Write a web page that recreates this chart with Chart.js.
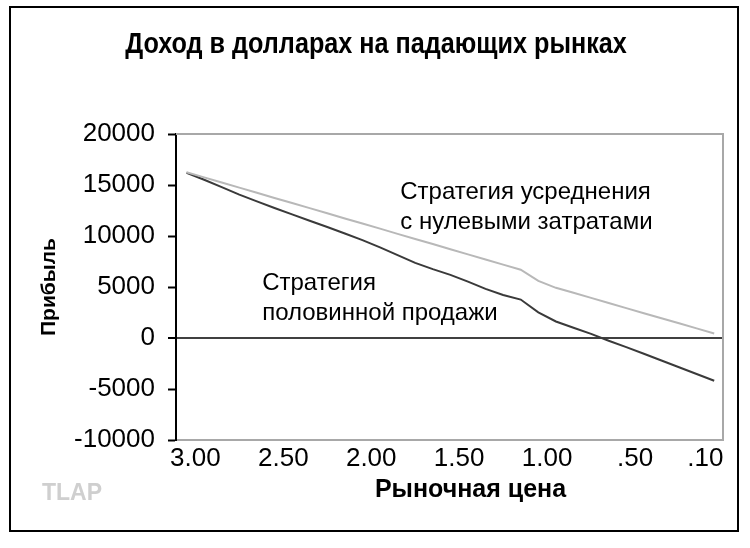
<!DOCTYPE html>
<html>
<head>
<meta charset="utf-8">
<script src="https://cdn.jsdelivr.net/npm/chart.js@4/dist/chart.umd.min.js"></script>
<style>
html,body{margin:0;padding:0;background:#fff}
</style>
</head>
<body>
<canvas id="grafico" width="750" height="548"></canvas>
<script>
// -------- DADOS
const prices = [3.05,2.95,2.85,2.75,2.65,2.55,2.45,2.35,2.25,2.15,2.05,1.95,1.85,1.75,1.65,1.55,1.45,1.35,1.25,1.15,1.05,0.95,0.85,0.75,0.65,0.55,0.45,0.35,0.25,0.15,0.05];
const averaging = [16250,15750,15240,14740,14240,13730,13230,12730,12230,11720,11220,10720,10210,9710,9210,8700,8200,7700,7190,6690,5600,4920,4430,3930,3430,2930,2430,1930,1440,940,440];
const halfSale = [16200,15510,14790,14050,13400,12750,12120,11500,10880,10240,9590,8880,8130,7370,6750,6190,5530,4820,4220,3770,2520,1620,1010,410,-270,-900,-1550,-2210,-2870,-3530,-4190];
const xTickValues = [0.1,0.5,1,1.5,2,2.5,3];
const xTickLabels = [".10",".50","1.00","1.50","2.00","2.50","3.00"];

const FONT = '"Liberation Sans", Arial, sans-serif';
const TITULO = "Доход в долларах на падающих рынках";

// -------- TEXTOS / MOLDURA
const extras = {
  id: "extras",
  beforeDraw(chart){
    const c = chart.ctx;
    c.save();
    c.fillStyle = "#fff";
    c.fillRect(0,0,chart.width,chart.height);
    c.restore();
  },
  beforeDatasetsDraw(chart){
    const c = chart.ctx, a = chart.chartArea;
    c.save();
    c.strokeStyle = "#a8a8a8";
    c.lineWidth = 2;
    c.beginPath();
    c.moveTo(a.left, a.top);
    c.lineTo(a.right, a.top);
    c.lineTo(a.right, a.bottom);
    c.stroke();
    c.restore();
  },
  afterDraw(chart){
    const c = chart.ctx, a = chart.chartArea;
    const sx = chart.scales.x, sy = chart.scales.y;
    c.save();
    // moldura externa
    c.strokeStyle = "#000";
    c.lineWidth = 2;
    c.strokeRect(10, 7, 728, 524);

    // titulo (fonte estreita)
    c.fillStyle = "#000";
    c.textBaseline = "middle";
    c.textAlign = "center";
    c.save();
    c.translate(376, 45);
    c.scale(0.84, 1);
    c.font = "bold 30px " + FONT;
    c.fillText(TITULO, 0, 0);
    c.restore();

    // notas das curvas
    c.font = "24px " + FONT;
    c.textAlign = "left";
    c.fillText("Стратегия усреднения", sx.getPixelForValue(1.835), sy.getPixelForValue(14300));
    c.fillText("с нулевыми затратами", sx.getPixelForValue(1.835), sy.getPixelForValue(11350));
    c.fillText("Стратегия", sx.getPixelForValue(2.62), sy.getPixelForValue(5400));
    c.fillText("половинной продажи", sx.getPixelForValue(2.62), sy.getPixelForValue(2450));

    // titulo eixo x
    c.font = "bold 25px " + FONT;
    c.textAlign = "center";
    c.fillText("Рыночная цена", a.left + (a.right - a.left)/2 + 21, a.bottom + 50);

    // marca
    c.fillStyle = "#cfcfcf";
    c.font = "bold 23px " + FONT;
    c.textAlign = "left";
    c.fillText("TLAP", 42, 494);
    c.restore();
  }
};

new Chart(
document.getElementById("grafico"),
{
type:"line",
data:{
datasets:[
{
label:"Стратегия усреднения с нулевыми затратами",
data: prices.map((p,i)=>({x:p, y:averaging[i]})),
borderColor:"#b8b8b8",
borderWidth:2,
pointRadius:0,
tension:0
},
{
label:"Стратегия половинной продажи",
data: prices.map((p,i)=>({x:p, y:halfSale[i]})),
borderColor:"#3a3a3a",
borderWidth:2,
pointRadius:0,
tension:0
}
]
},
options:{
responsive:false,
animation:false,
devicePixelRatio:1,
layout:{padding:{left:16,right:27,top:134,bottom:0}},
plugins:{
legend:{display:false},
tooltip:{enabled:false},
title:{display:false}
},
scales:{
x:{
type:"linear",
reverse:true,
min:0,
max:3.11,
afterBuildTicks: s => { s.ticks = xTickValues.map(v => ({value:v})); },
afterFit: s => { s.height = 108; },
ticks:{
color:"#000",
font:{family:FONT, size:26},
padding:3,
maxRotation:0,
autoSkip:false,
callback: v => xTickLabels[xTickValues.indexOf(v)]
},
grid:{color:"transparent", drawTicks:false},
border:{color:"#a8a8a8", width:2}
},
y:{
min:-10000,
max:20000,
afterFit: s => { s.width = 160; },
ticks:{
stepSize:5000,
color:"#000",
font:{family:FONT, size:26},
padding:13,
callback: v => String(v)
},
grid:{
color: ctx => ctx.tick && ctx.tick.value === 0 ? "#404040" : "transparent",
lineWidth: ctx => ctx.tick && ctx.tick.value === 0 ? 2 : 1,
tickColor:"#000",
tickWidth:2,
tickLength:8
},
border:{color:"#000", width:2},
title:{
display:true,
text:"Прибыль",
color:"#000",
font:{family:FONT, size:21, weight:"bold"},
padding:{top:21,bottom:4}
}
}
}
},
plugins:[extras]
}
);
</script>
</body>
</html>
